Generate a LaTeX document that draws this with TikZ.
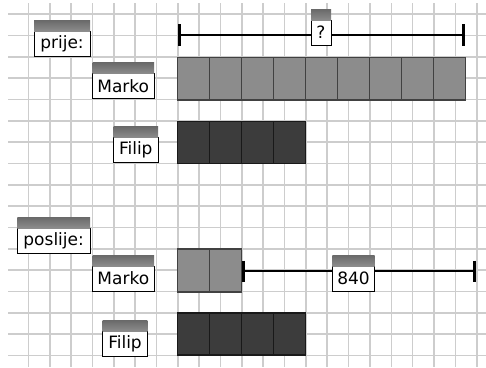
\documentclass[tikz,border=0pt]{standalone}
\usepackage{fontspec}
\setmainfont{DejaVu Sans}
\definecolor{gridc}{RGB}{205,205,205}
\definecolor{mfill}{RGB}{140,140,140}
\definecolor{medge}{RGB}{65,65,65}
\definecolor{ffill}{RGB}{60,60,60}
\definecolor{fedge}{RGB}{25,25,25}
\definecolor{tabtop}{RGB}{105,105,105}
\definecolor{tabbot}{RGB}{140,140,140}
\tikzset{
  gridline/.style={draw=gridc, line width=1.6pt},
  mcell/.style={draw=medge, fill=mfill, line width=1.5pt, minimum width=32.04pt, minimum height=42.7pt, inner sep=0pt, outer sep=0pt},
  fcell/.style={draw=fedge, fill=ffill, line width=1.5pt, minimum width=32.04pt, minimum height=42pt, inner sep=0pt, outer sep=0pt},
  lbl/.style={draw=black, fill=white, line width=0.9pt, minimum height=25pt, inner sep=0pt, outer sep=0pt, anchor=north west, font=\fontsize{17}{20}\selectfont},
  tabbox/.style={top color=tabtop, bottom color=tabbot, draw=none, minimum height=11pt, inner sep=0pt, outer sep=0pt, anchor=south west},
  brk/.style={draw=black, line width=2.6pt},
  tick/.style={draw=black, line width=3.2pt},
}
\begin{document}
\begin{tikzpicture}[x=1pt,y=-1pt]
\useasboundingbox (0,0) rectangle (486,367);
\fill[white] (0,0) rectangle (486,367);
% grid
\foreach \k in {1,...,22} {
  \draw[gridline] ({7+21.35*\k},3) -- ({7+21.35*\k},367);
}
\foreach \k in {0,...,16} {
  \draw[gridline] (8,{14+21.35*\k}) -- (486,{14+21.35*\k});
}
% bars before
\foreach \i in {1,...,9} {
  \node[mcell] (mt\i) at ({177.3+32.04*(\i-0.5)},78.65) {};
}
\foreach \i in {1,...,4} {
  \node[fcell] (ft\i) at ({177.3+32.04*(\i-0.5)},142.5) {};
}
% bars after
\foreach \i in {1,2} {
  \node[mcell] (mb\i) at ({177.3+32.04*(\i-0.5)},270.5) {};
}
\foreach \i in {1,...,4} {
  \node[fcell] (fb\i) at ({177.3+32.04*(\i-0.5)},334) {};
}
% top bracket
\coordinate (tl) at (179.5,35);
\coordinate (tr) at (463.5,35);
\draw[brk] (tl) -- (tr);
\draw[tick] ([yshift=11pt]tl) -- ([yshift=-11pt]tl);
\draw[tick] ([yshift=11pt]tr) -- ([yshift=-11pt]tr);
% bottom bracket
\coordinate (bl) at (243.5,271);
\coordinate (br) at (474.5,271);
\draw[brk] (bl) -- (br);
\draw[tick] ([yshift=10.5pt]bl) -- ([yshift=-10.5pt]bl);
\draw[tick] ([yshift=10.5pt]br) -- ([yshift=-10.5pt]br);
% labels
\node[lbl, minimum width=56pt] (prije) at (34,31) {prije:};
\node[tabbox, minimum width=56pt] (prijetab) at (prije.north west) {};
\node[lbl, minimum width=61.5pt] (markot) at (92.5,73.5) {Marko};
\node[tabbox, minimum width=61.5pt] (markottab) at (markot.north west) {};
\node[lbl, minimum width=44.5pt] (filipt) at (113.5,137.5) {Filip};
\node[tabbox, minimum width=44.5pt] (filipttab) at (filipt.north west) {};
\node[lbl, minimum width=20pt] (q) at (311,20) {?};
\node[tabbox, minimum width=20pt] (qtab) at (q.north west) {};
\node[lbl, minimum width=72.7pt] (poslije) at (17.3,228) {poslije:};
\node[tabbox, minimum width=72.7pt] (poslijetab) at (poslije.north west) {};
\node[lbl, minimum width=61.3pt] (markob) at (92.7,266) {Marko};
\node[tabbox, minimum width=61.3pt] (markobtab) at (markob.north west) {};
\node[lbl, minimum width=44.6pt] (filipb) at (102.7,331) {Filip};
\node[tabbox, minimum width=44.6pt] (filipbtab) at (filipb.north west) {};
\node[lbl, minimum width=42.4pt] (v840) at (332.3,266) {840};
\node[tabbox, minimum width=42.4pt] (v840tab) at (v840.north west) {};
\end{tikzpicture}
\end{document}
